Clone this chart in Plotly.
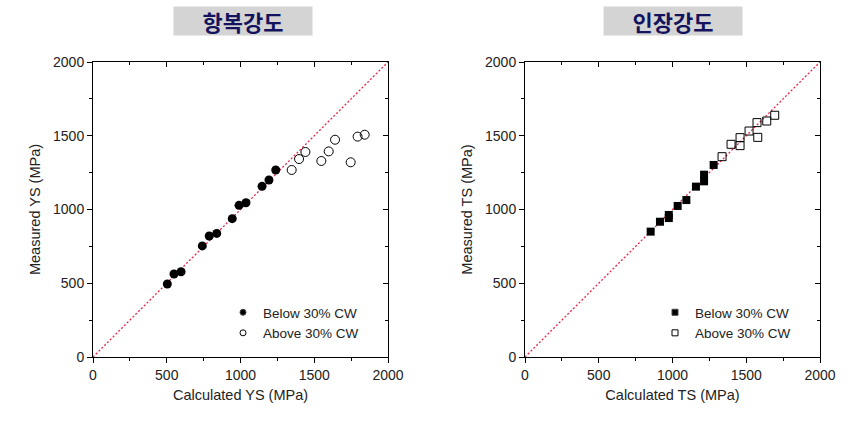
import plotly.graph_objects as go

# Left: yield strength (YS)
ys_below_calc = [504, 549, 597, 741, 788, 839, 944, 990, 1037, 1146, 1193, 1239]
ys_below_meas = [495, 563, 578, 753, 820, 838, 938, 1028, 1046, 1157, 1200, 1268]
ys_above_calc = [1347, 1397, 1440, 1548, 1598, 1641, 1747, 1794, 1842]
ys_above_meas = [1268, 1342, 1390, 1329, 1394, 1473, 1320, 1494, 1507]

# Right: tensile strength (TS)
ts_below_calc = [852, 915, 975, 975, 1035, 1094, 1159, 1214, 1214, 1279]
ts_below_meas = [850, 917, 942, 963, 1024, 1064, 1155, 1191, 1236, 1302]
ts_above_calc = [1336, 1397, 1458, 1458, 1519, 1578, 1573, 1639, 1693]
ts_above_meas = [1358, 1442, 1487, 1433, 1532, 1489, 1589, 1600, 1639]

diag = [0, 2000]
ticks = [0, 500, 1000, 1500, 2000]
tick_text = ["0", "500", "1000", "1500", "2000"]
titles = ["항복강도", "인장강도"]
legend_names = ["Below 30% CW", "Above 30% CW"]

W, H = 866, 430
xdom1 = [93 / W, 388 / W]
xdom2 = [525 / W, 820 / W]
ydom = [1 - 357 / H, 1 - 62 / H]

font_fam = "Liberation Sans, Arial, sans-serif"
txt_col = "#222222"

fig = go.Figure()

# dummy traces for mirrored inside-tick axes (top/right)
for xa, ya in [("x3", "y3"), ("x4", "y4")]:
    fig.add_trace(go.Scatter(x=[None], y=[None], mode="markers", xaxis=xa, yaxis=ya,
                             showlegend=False, hoverinfo="skip"))

# diagonal reference lines
for xa, ya in [("x", "y"), ("x2", "y2")]:
    fig.add_trace(go.Scatter(x=diag, y=diag, mode="lines", xaxis=xa, yaxis=ya,
                             line=dict(color="rgb(230,40,70)", width=1.3, dash="2px,2px"),
                             showlegend=False, hoverinfo="skip"))

fig.add_trace(go.Scatter(x=ys_below_calc, y=ys_below_meas, mode="markers", name=legend_names[0],
                         marker=dict(symbol="circle", size=9, color="black"),
                         xaxis="x", yaxis="y", showlegend=False))
fig.add_trace(go.Scatter(x=ys_above_calc, y=ys_above_meas, mode="markers", name=legend_names[1],
                         marker=dict(symbol="circle-open", size=9, color="black", line=dict(width=1)),
                         xaxis="x", yaxis="y", showlegend=False))
fig.add_trace(go.Scatter(x=ts_below_calc, y=ts_below_meas, mode="markers", name=legend_names[0],
                         marker=dict(symbol="square", size=8, color="black"),
                         xaxis="x2", yaxis="y2", showlegend=False))
fig.add_trace(go.Scatter(x=ts_above_calc, y=ts_above_meas, mode="markers", name=legend_names[1],
                         marker=dict(symbol="square-open", size=8, color="black", line=dict(width=1)),
                         xaxis="x2", yaxis="y2", showlegend=False))

# legend entries (smaller symbols, as in the original legend)
legend_specs = [("circle", "legend", "x", "y", legend_names[0]),
                ("circle-open", "legend", "x", "y", legend_names[1]),
                ("square", "legend2", "x2", "y2", legend_names[0]),
                ("square-open", "legend2", "x2", "y2", legend_names[1])]
for sym, lg, xa, ya, nm in legend_specs:
    fig.add_trace(go.Scatter(x=[None], y=[None], mode="markers", name=nm, legend=lg,
                             xaxis=xa, yaxis=ya,
                             marker=dict(symbol=sym, size=6, color="black", line=dict(width=1))))

def main_axis(dom, anchor, title):
    return dict(domain=dom, anchor=anchor, range=[0, 2000], tickvals=ticks, ticktext=tick_text,
                showgrid=False, zeroline=False, showline=True, linecolor="black", linewidth=1,
                mirror=True, ticks="outside", ticklen=5, tickcolor="black", tickwidth=1,
                automargin=False,
                minor=dict(ticks="outside", ticklen=3, dtick=250, tick0=0, tickcolor="black", showgrid=False),
                tickfont=dict(family=font_fam, size=14, color=txt_col),
                title=dict(text=title, font=dict(family=font_fam, size=14.5, color=txt_col), standoff=8))

def mirror_axis(dom, anchor, overlay, side):
    return dict(domain=dom, anchor=anchor, overlaying=overlay, side=side, range=[0, 2000],
                tickvals=ticks, showticklabels=False, showgrid=False, zeroline=False, showline=False,
                ticks="inside", ticklen=5, tickcolor="black", tickwidth=1, automargin=False,
                minor=dict(ticks="inside", ticklen=3, dtick=250, tick0=0, tickcolor="black", showgrid=False))

fig.update_layout(
    width=W, height=H,
    margin=dict(l=0, r=0, t=0, b=0, autoexpand=False),
    paper_bgcolor="white", plot_bgcolor="white",
    font=dict(family=font_fam, color=txt_col),
    xaxis=main_axis(xdom1, "y", "Calculated YS (MPa)"),
    yaxis=main_axis(ydom, "x", "Measured YS (MPa)"),
    xaxis2=main_axis(xdom2, "y2", "Calculated TS (MPa)"),
    yaxis2=main_axis(ydom, "x2", "Measured TS (MPa)"),
    xaxis3=mirror_axis(xdom1, "y3", "x", "top"),
    yaxis3=mirror_axis(ydom, "x3", "y", "right"),
    xaxis4=mirror_axis(xdom2, "y4", "x2", "top"),
    yaxis4=mirror_axis(ydom, "x4", "y2", "right"),
    legend=dict(x=223 / W, y=1 - 297 / H, xanchor="left", yanchor="top", bgcolor="rgba(0,0,0,0)",
                font=dict(family=font_fam, size=13.5, color=txt_col), tracegroupgap=0, itemwidth=30),
    legend2=dict(x=655 / W, y=1 - 297 / H, xanchor="left", yanchor="top", bgcolor="rgba(0,0,0,0)",
                 font=dict(family=font_fam, size=13.5, color=txt_col), tracegroupgap=0, itemwidth=30),
    showlegend=True,
)

for cx, t in [(243 / W, titles[0]), (673 / W, titles[1])]:
    fig.add_annotation(x=cx, y=1 - 21 / H, xref="paper", yref="paper", text="<b>%s</b>" % t,
                       xanchor="center", yanchor="middle",
                       showarrow=False, bgcolor="#d4d4d4", width=136, height=26, borderpad=1,
                       font=dict(family="Noto Sans CJK KR", size=22, color="#14145e"))

fig.write_html("out.html")
